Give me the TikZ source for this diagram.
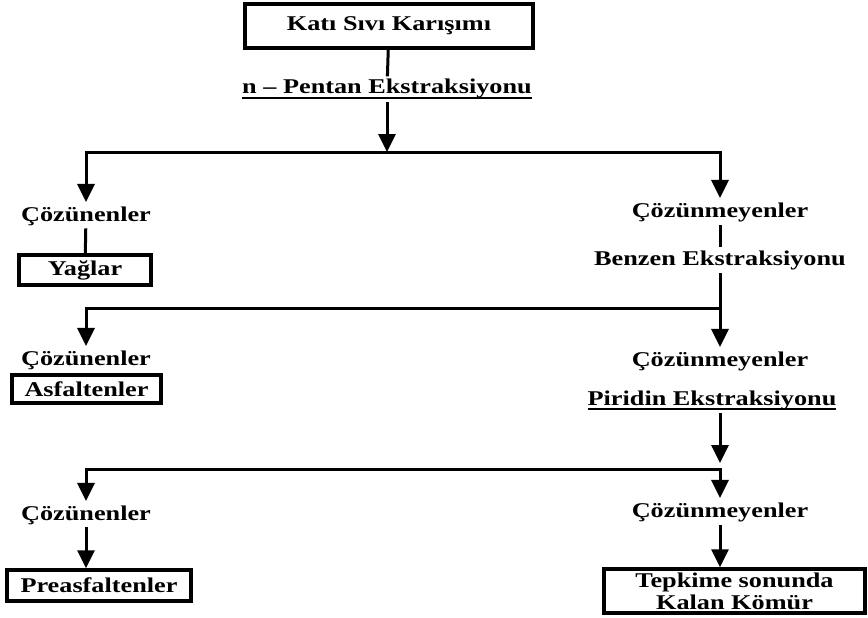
\documentclass[tikz,border=0pt]{standalone}
\usepackage{fontspec}
\setmainfont{Liberation Serif}[FakeStretch=1.25]
\usetikzlibrary{arrows.meta}
% underlined label with a heavy rule
\newcommand{\ulin}[1]{\vtop{\hbox{#1}\kern-1.6pt\hrule height 2pt}}

\begin{document}
\begin{tikzpicture}[x=1pt,y=-1pt,line width=3pt,line cap=rect,
                    >={Triangle[width=17pt,length=18pt]},
                    every node/.style={font=\fontsize{21}{22}\selectfont\bfseries,inner sep=3pt},
                    box/.style={draw,line width=3.5pt,align=center}]
  \useasboundingbox (0,0) rectangle (868,618);

  \node[box,minimum width=288pt,minimum height=44pt] (mix) at (389,26) {Katı Sıvı Karışımı};
  \node[anchor=base] (pent) at (387,94) {\ulin{n – Pentan Ekstraksiyonu}};
  \coordinate (s1) at (387,152);

  \node[anchor=base] (c1) at (86,221) {Çözünenler};
  \node[box,minimum width=132pt,minimum height=30pt] (yag) at (85,270) {Yağlar};
  \node[anchor=base] (d1) at (720,217) {Çözünmeyenler};
  \node[anchor=base] (benz) at (720,265) {Benzen Ekstraksiyonu};
  \coordinate (s2) at (720,308);

  \node[anchor=base] (c2) at (86,365) {Çözünenler};
  \node[box,minimum width=149pt,minimum height=28pt] (asf) at (86.5,389) {Asfaltenler};
  \node[anchor=base] (d2) at (720,366) {Çözünmeyenler};
  \node[anchor=base] (piri) at (712,405) {\ulin{Piridin Ekstraksiyonu}};
  \coordinate (s3) at (720,469);

  \node[anchor=base] (c3) at (86,520) {Çözünenler};
  \node[box,minimum width=184pt,minimum height=31pt] (pre) at (99,585.5) {Preasfaltenler};
  \node[anchor=base] (d3) at (720,517) {Çözünmeyenler};
  \node[box,minimum width=261pt,minimum height=44pt,inner sep=1pt] (kom) at (734.5,591)
       {Tepkime sonunda\\Kalan Kömür};

  \draw (mix) -- (pent);
  \draw[->] (pent) -- (s1);
  \draw[->] (s1) -| (c1);
  \draw[->] (s1) -| (d1);
  \draw (c1) -- (yag);
  \draw (d1) -- (benz);
  \draw[->] (benz) -- (s2) -| (c2);
  \draw[->] (s2) -- (d2);
  \draw[->,shorten >=6pt] (piri.south -| s3) -- (s3);
  \draw[->] (s3) -| (c3);
  \draw[->] (s3) -- (d3);
  \draw[->] (c3) -- (c3 |- pre.north);
  \draw[->] (d3) -- (d3 |- kom.north);
\end{tikzpicture}
\end{document}
